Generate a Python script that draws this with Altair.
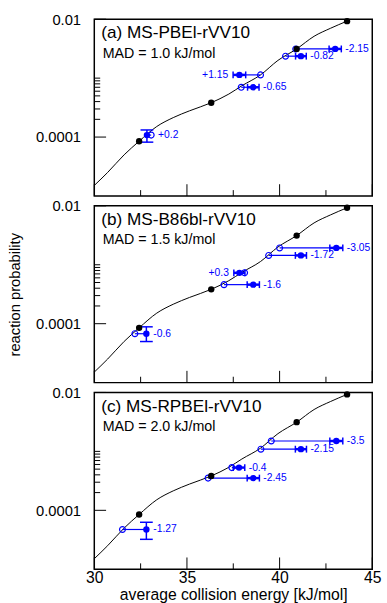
import altair as alt
import pandas as pd

FONT = "Liberation Sans"
BLUE = "#0000ff"

# ---- theory curve ----
curve_energy = [30.0, 30.72, 31.61, 32.42, 33.37, 34.26, 35.14, 36.31, 37.26,
                37.96, 38.97, 39.91, 40.92, 41.86, 42.74, 43.64]
curve_prob = [1.51e-5, 2.51e-5, 5.0e-5, 8.5e-5, 1.51e-4, 2.14e-4, 2.79e-4, 3.83e-4,
              5.37e-4, 7.41e-4, 1.135e-3, 2.0e-3, 3.13e-3, 5.13e-3, 7.0e-3, 9.27e-3]
dot_energy = [32.42, 36.31, 40.92, 43.64]
dot_prob = [8.5e-5, 3.83e-4, 3.13e-3, 9.27e-3]

# ---- panels ----
panel_titles = ["(a) MS-PBEl-rVV10", "(b) MS-B86bl-rVV10", "(c) MS-RPBEl-rVV10"]
panel_mad = ["MAD = 1.0 kJ/mol", "MAD = 1.5 kJ/mol", "MAD = 2.0 kJ/mol"]

exp_energy = [[32.84, 37.83, 38.58, 41.15, 43.00],
              [32.81, 37.83, 38.58, 41.15, 43.06],
              [32.81, 38.58, 37.81, 41.15, 43.06]]
exp_prob = [[1.08e-4, 1.135e-3, 7.0e-4, 2.36e-3, 3.13e-3],
            [6.76e-5, 7.3e-4, 4.6e-4, 1.44e-3, 1.93e-3],
            [4.73e-5, 3.52e-4, 5.31e-4, 1.09e-3, 1.50e-3]]
open_energy = [[33.07, 38.97, 37.93, 40.32, 40.87],
               [32.19, 38.11, 37.00, 39.41, 40.00],
               [31.52, 36.14, 37.42, 38.99, 39.55]]
x_err = [[0.0, 0.34, 0.31, 0.29, 0.33],
         [0.0, 0.30, 0.33, 0.30, 0.35],
         [0.0, 0.33, 0.31, 0.30, 0.35]]
prob_lo = [[8.2e-5, None, None, None, None],
           [4.98e-5, None, None, None, None],
           [3.22e-5, None, None, None, None]]
prob_hi = [[1.32e-4, None, None, None, None],
           [8.85e-5, None, None, None, None],
           [6.27e-5, None, None, None, None]]
shifts = [[0.2, 1.15, -0.65, -0.82, -2.15],
          [-0.6, 0.3, -1.6, -1.72, -3.05],
          [-1.27, -2.45, -0.4, -2.15, -3.5]]

y_major = [0.01, 0.0001]
y_minor = [0.0002, 0.0003, 0.0004, 0.0005, 0.0006, 0.0007, 0.0008, 0.0009, 0.001]
x_major = [30, 35, 40, 45]
x_minor = [32.5, 37.5, 42.5]

W, H = 283, 180
xs = alt.Scale(domain=[30, 45], nice=False, zero=False)
ys = alt.Scale(type="log", domain=[1e-5, 1e-2], nice=False)

curve_df = pd.DataFrame({"e": curve_energy, "p": curve_prob})
dots_df = pd.DataFrame({"e": dot_energy, "p": dot_prob})


def panel(i, show_x, show_ytitle):
    df = pd.DataFrame({
        "e": exp_energy[i], "p": exp_prob[i], "oe": open_energy[i],
        "xerr": x_err[i], "plo": prob_lo[i], "phi": prob_hi[i], "s": shifts[i],
    })
    df["lab"] = [f"{v:+g}" for v in df["s"]]
    df["elo"] = df["e"] - df["xerr"]
    df["ehi"] = df["e"] + df["xerr"]
    df["emax"] = df[["e", "oe"]].max(axis=1)
    df["kind"] = ["vert" if pd.notna(lo) else ("right" if s < 0 else "left")
                  for lo, s in zip(df["plo"], df["s"])]
    hdf = df[df["kind"] != "vert"]
    vdf = df[df["kind"] == "vert"]
    hcaps = pd.DataFrame({"x": list(hdf["elo"]) + list(hdf["ehi"]),
                          "y": list(hdf["p"]) * 2})
    vcaps = pd.DataFrame({"x": list(vdf["e"]) * 2,
                          "y": list(vdf["plo"]) + list(vdf["phi"])})

    if show_x:
        xax = alt.Axis(values=x_major, ticks=False, tickSize=0, domain=False, grid=False,
                       labelFontSize=16, labelPadding=0, labelFlush=False,
                       title="average collision energy [kJ/mol]",
                       titleFontSize=16, titlePadding=1.5)
    else:
        xax = None
    yax = alt.Axis(values=y_major, format="~g", ticks=False, tickSize=0, domain=False,
                   grid=False, labelFontSize=15, labelPadding=14, labelFlush=False,
                   labelOverlap=False,
                   title="reaction probability" if show_ytitle else None,
                   titleFontSize=15, titleX=-81, titleY=H / 2,
                   titleBaseline="middle", titleAlign="center")

    X = lambda f: alt.X(f"{f}:Q", scale=xs, axis=xax)
    Y = lambda f: alt.Y(f"{f}:Q", scale=ys, axis=yax)

    curve = alt.Chart(curve_df).mark_line(color="black", strokeWidth=1,
                                          interpolate="monotone").encode(
        x=X("e"), y=Y("p"))
    conn = alt.Chart(df).mark_rule(color=BLUE, strokeWidth=1.2).encode(
        x=X("oe"), x2="e:Q", y=Y("p"))
    herr = alt.Chart(hdf).mark_rule(color=BLUE, strokeWidth=2.5).encode(
        x=X("elo"), x2="ehi:Q", y=Y("p"))
    hcap = alt.Chart(hcaps).mark_tick(color=BLUE, orient="vertical", size=7,
                                      thickness=1.5, opacity=1).encode(
        x=X("x"), y=Y("y"))
    verr = alt.Chart(vdf).mark_rule(color=BLUE, strokeWidth=1.5).encode(
        x=X("e"), y=Y("plo"), y2="phi:Q")
    vcap = alt.Chart(vcaps).mark_tick(color=BLUE, orient="horizontal", size=13,
                                      thickness=1.5, opacity=1).encode(
        x=X("x"), y=Y("y"))
    opn = alt.Chart(df).mark_point(shape="circle", filled=False, color=BLUE,
                                   size=36, strokeWidth=1.2, opacity=1).encode(
        x=X("oe"), y=Y("p"))
    fil = alt.Chart(df).mark_circle(color=BLUE, size=42, opacity=1).encode(
        x=X("e"), y=Y("p"))
    blk = alt.Chart(dots_df).mark_circle(color="black", size=42, opacity=1).encode(
        x=X("e"), y=Y("p"))

    tstyle = dict(color=BLUE, font=FONT, fontSize=10.5, baseline="middle")
    t_right = alt.Chart(df[df["kind"] == "right"]).mark_text(
        align="left", dx=4, **tstyle).encode(x=X("ehi"), y=Y("p"), text="lab:N")
    t_left = alt.Chart(df[df["kind"] == "left"]).mark_text(
        align="right", dx=-5, **tstyle).encode(x=X("elo"), y=Y("p"), text="lab:N")
    t_vert = alt.Chart(df[df["kind"] == "vert"]).mark_text(
        align="left", dx=7, **tstyle).encode(x=X("emax"), y=Y("p"), text="lab:N")

    head = pd.DataFrame({"t": [panel_titles[i]], "m": [panel_mad[i]]})
    title = alt.Chart(head).mark_text(align="left", baseline="alphabetic", font=FONT,
                                      fontSize=17.5, color="black").encode(
        x=alt.value(7), y=alt.value(19.5), text="t:N")
    mad = alt.Chart(head).mark_text(align="left", baseline="alphabetic", font=FONT,
                                    fontSize=14.5, color="black").encode(
        x=alt.value(8.5), y=alt.value(39), text="m:N")

    ymaj = alt.Chart(pd.DataFrame({"v": y_major})).mark_rule(
        color="black", strokeWidth=1).encode(y=Y("v"), x=alt.value(0), x2=alt.value(12))
    ymin = alt.Chart(pd.DataFrame({"v": y_minor})).mark_rule(
        color="black", strokeWidth=1).encode(y=Y("v"), x=alt.value(0), x2=alt.value(6))
    xmaj = alt.Chart(pd.DataFrame({"v": x_major})).mark_rule(
        color="black", strokeWidth=1).encode(x=X("v"), y=alt.value(H), y2=alt.value(H - 12))
    xmin = alt.Chart(pd.DataFrame({"v": x_minor})).mark_rule(
        color="black", strokeWidth=1).encode(x=X("v"), y=alt.value(H), y2=alt.value(H - 6))

    return alt.layer(curve, ymaj, ymin, xmaj, xmin, conn, herr, hcap, verr, vcap,
                     opn, fil, blk, t_right, t_left, t_vert, title, mad).properties(
        width=W, height=H)


chart = alt.vconcat(panel(0, False, False), panel(1, False, True), panel(2, True, False),
                    spacing=0).properties(
    padding={"left": 7, "top": 6, "right": 5, "bottom": 5}
).configure_view(stroke="black", strokeWidth=1.5).configure_axis(
    labelFont=FONT, titleFont=FONT, labelColor="black", titleColor="black",
    titleFontWeight="normal")

chart.save("out.html", embed_options={"renderer": "svg", "actions": False})
